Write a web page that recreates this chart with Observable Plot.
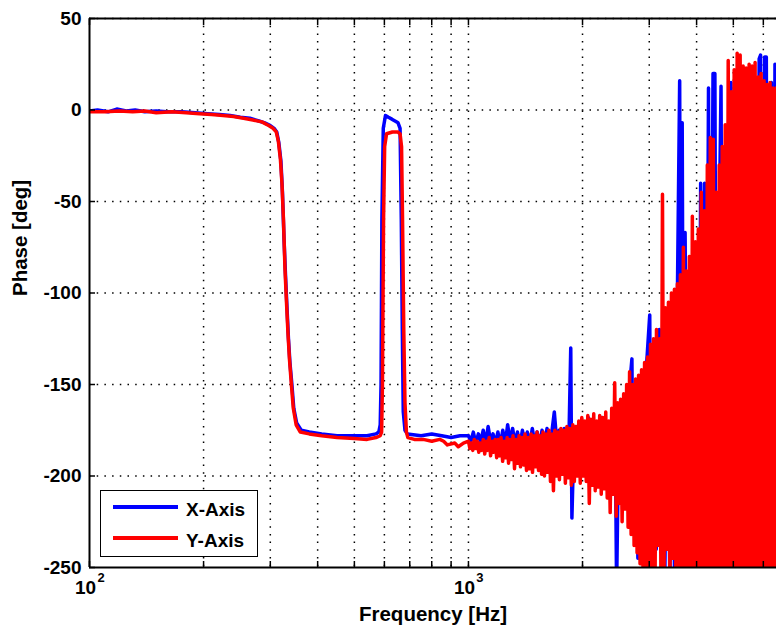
<!DOCTYPE html>
<html>
<head>
<meta charset="utf-8">
<script src="https://cdn.jsdelivr.net/npm/d3@7"></script>
<script src="https://cdn.jsdelivr.net/npm/@observablehq/plot@0.6"></script>
<style>
html, body { margin: 0; padding: 0; background: #fff; }
#wrap { position: relative; width: 776px; height: 635px; overflow: hidden; font-family: "Liberation Sans", Arial, Helvetica, sans-serif; }
#wrap svg { position: absolute; left: 0; top: 0; }
.lgbox { position: absolute; box-sizing: border-box; border: 1.5px solid #000; background: #fff; }
.lgline { position: absolute; height: 3.5px; }
.lgtext { position: absolute; font-size: 19px; font-weight: bold; line-height: 20px; color: #000; white-space: nowrap; }
</style>
</head>
<body>
<div id="wrap"></div>
<script>
// ---- Axis definitions ----
const xDomain = [100, 6500];
const yDomain = [-250, 50];
const gridFreqs = [200, 300, 400, 500, 600, 700, 800, 900, 1000, 2000, 3000, 4000, 5000, 6000];
const tickFreqs = [100, 200, 300, 400, 500, 600, 700, 800, 900, 1000, 2000, 3000, 4000, 5000, 6000];
const decadeTicks = [100, 1000];
const decadeBase = ["10", "10"];
const decadeExponents = ["2", "3"];
const phaseTicks = [50, 0, -50, -100, -150, -200, -250];
const gridPhases = [50, 0, -50, -100, -150, -200];
const xLabel = "Frequency [Hz]";
const yLabel = "Phase [deg]";
const legendLabels = ["X-Axis", "Y-Axis"];
const seriesColors = ["#0000ff", "#ff0000"];

// ---- X-Axis series (blue) ----
const xAxisFreq = [
  100,105,112,118,125,132,140,150,160,175,190,205,220,235,250,265,280,290,300,307,
  312,316,320,323,326,329,332,335,338,342,346,352,362,380,410,450,500,540,570,580,
  585,588,591,596,604,615,628,640,652,660,665,669,673,680,690,750,800,850,900,950,
  1000,1015,1030,1046,1062,1078,1094,1110,1127,1144,1161,1178,1196,1214,1232,1251,1269,1288,1308,1327,1347,1368,1388,1409,
  1430,1452,1474,1496,1518,1541,1564,1588,1612,1636,1660,1685,1711,1736,1762,1789,1816,1843,1862,1875,1899,1927,1956,1985,
  2030,2070,2110,2150,2200,
  2250,2300,2350,2400,2440,2460,2490,2540,2590,2640,2700,2720,2760,2800,2850,2900,2950,3009,3030,3080,
  3130,3190,3200,3250,3300,3350,3400,3450,3500,3560,3609,3640,3665,3700,3730,3790,3850,3920,3960,3990,
  4050,4100,4150,4200,4240,4300,4340,4420,4470,4520,4600,4640,4700,4800,4860,4930,5000,5080,5160,5250,
  5340,5450,5560,5650,5750,5850,5900,5960,6050,6110,6180,6300,6380,6440,6520
];
const xAxisPhase = [
  -0.5,0,-1,0.5,-0.5,0,-1,-0.5,-1,-1,-1.5,-2,-2.5,-3,-4,-4.5,-6,-7,-8.5,-10,
  -12,-18,-28,-45,-70,-90,-108,-125,-138,-150,-163,-171,-175,-176,-177,-178,-178,-178,-177,-176,
  -172,-150,-60,-10,-3,-4,-5,-6,-7,-10,-60,-120,-165,-175,-177,-178,-177,-178,-179,-178,
  -178,-181,-176,-182,-177,-181,-175,-182,-173,-181,-177,-182,-176,-183,-175,-182,-172,-181,-174,-182,-176,-183,-175,-182,
  -176,-183,-174,-182,-176,-183,-175,-182,-174,-183,-176,-165,-182,-175,-183,-174,-182,-176,-130,-223,-178,-173,-182,-172,
  -190,-168,-195,-172,-200,
  -168,-205,-172,-210,-175,-262,-180,-170,-215,-160,-136,-220,-150,-245,-145,-225,-140,-112,-230,-130,
  -240,-120,-234,-125,-250,-115,-262,-105,-262,-100,16,-262,-7,-262,-67,-262,-90,-93,-262,-94,
  -262,-40,-262,-40,-262,12,-262,20,20,-262,-50,13,-262,-10,-262,15,-262,20,-262,15,
  -262,18,-262,20,-262,28,30,-262,29,29,-262,15,-262,25,-262
];

// ---- Y-Axis series (red) ----
const yAxisFreq = [
  100,110,120,130,140,150,165,180,195,210,225,240,255,270,285,297,305,311,315,319,
  322,325,328,331,334,337,341,345,351,360,380,410,450,500,540,570,585,590,593,597,
  601,608,630,650,660,666,670,675,680,686,692,720,760,800,840,860,880,920,940,970,
  1000,1009,1018,1027,1036,1046,1055,1065,1074,1084,1094,1104,1114,1124,1134,1144,1155,1165,1176,1187,
  1197,1208,1219,1231,1242,1253,1265,1276,1288,1300,1311,1323,1335,1348,1360,1372,1385,1398,1410,1423,
  1436,1449,1463,1476,1490,1503,1517,1531,1545,1559,1573,1587,1602,1616,1631,1646,1661,1676,1691,1707,
  1722,1738,1754,1770,1786,1802,1819,1835,1852,1869,1886,1903,1920,1938,1955,1973,1991,2009,2028,2046,
  2065,2084,2103,2122,2141,2161,2180,2200,2220,2241,2261,2282,2303,2324,2345,2366,2388,2410,2432,2454,
  2476,2499,2521,2544,2568,2591,2615,2638,2662,2687,2711,2736,2761,2786,2812,2837,2863,2889,2916,2942,
  2969,2996,3023,3051,3079,3107,3135,3164,3193,3222,3251,3281,3311,3341,3371,3402,3433,3464,3496,3528,
  3560,3592,3625,3658,3691,3725,3759,3793,3828,3863,3898,3934,3970,4006,4042,4079,4116,4154,4192,4230,
  4269,4308,4347,4387,4427,4467,4508,4549,4590,4632,4674,4717,4760,4803,4847,4891,4936,4981,5026,5072,
  5118,5165,5212,5259,5307,5356,5405,5454,5504,5554,5605,5656,5707,5759,5812,5865,5918,5972,6027,6082,
  6137,6193,6250,6307,6364,6422,6481,6540
];
const yAxisPhase = [
  -1,-1,-0.5,-1,-0.5,-1.5,-1,-1.5,-2,-2.5,-3,-3.5,-4.5,-5.5,-6.5,-8.5,-10,-12,-17,-27,
  -40,-60,-87,-105,-122,-136,-150,-163,-172,-176,-177,-178,-179,-179.5,-180,-179,-178,-176,-150,-60,
  -20,-13,-12,-12,-13,-20,-60,-120,-160,-176,-179,-180,-180,-181,-180,-181,-183,-182,-184,-182,
  -181,-185,-182,-186,-180,-185,-181,-187,-182,-186,-180,-188,-181,-186,-179,-189,-181,-187,-180,-190,
  -180,-189,-179,-192,-181,-190,-179,-193,-180,-191,-178,-196,-180,-193,-178,-195,-179,-194,-177,-197,
  -179,-196,-177,-198,-178,-195,-176,-197,-178,-199,-176,-200,-177,-198,-175,-203,-177,-208,-175,-200,
  -176,-202,-174,-199,-175,-204,-173,-201,-174,-205,-172,-203,-173,-200,-170,-204,-168,-200,-170,-203,
  -167,-215,-169,-205,-166,-208,-170,-206,-167,-210,-168,-207,-165,-212,-170,-220,-163,-210,-149,-222,
  -160,-215,-158,-225,-155,-218,-150,-228,-143,-232,-150,-238,-147,-242,-145,-248,-142,-252,-138,-255,
  -135,-262,-128,-250,-125,-262,-120,-238,-125,-262,-46,-262,-108,-240,-105,-262,-100,-245,-98,-262,
  -95,-262,-90,-262,-75,-262,-88,-262,-80,-262,-58,-262,-72,-262,-65,-262,-45,-262,-55,-262,
  -30,-262,-15,-262,-16,-262,-45,-262,-30,-262,-20,-262,-8,-262,27,-262,10,-262,22,-262,
  31,-262,30,-262,24,-262,23,-262,25,-262,24,-262,26,-262,18,-262,20,-262,16,-262,
  14,-262,15,-262,12,-262,12,-262
];

const blueData = xAxisFreq.map((f, i) => ({f, p: xAxisPhase[i]}));
const redData = yAxisFreq.map((f, i) => ({f, p: yAxisPhase[i]}));

const font = '"Liberation Sans", Arial, Helvetica, sans-serif';
const dotted = {stroke: "#000", strokeWidth: 1.5, strokeDasharray: "1.5,6.2"};

const chart = Plot.plot({
  width: 776,
  height: 635,
  marginLeft: 89,
  marginRight: 0,
  marginTop: 18,
  marginBottom: 68,
  style: {fontFamily: font, fontWeight: "bold", background: "#fff", color: "#000"},
  x: {type: "log", domain: xDomain},
  y: {domain: yDomain},
  marks: [
    Plot.ruleX(gridFreqs, dotted),
    Plot.ruleY(gridPhases, dotted),
    Plot.line(blueData, {x: "f", y: "p", stroke: seriesColors[0], strokeWidth: 3.5, clip: true}),
    Plot.line(redData, {x: "f", y: "p", stroke: seriesColors[1], strokeWidth: 3.5, clip: true}),
    Plot.ruleX([xDomain[0]], {stroke: "#000", strokeWidth: 2}),
    Plot.ruleY(yDomain, {stroke: "#000", strokeWidth: 2}),
    Plot.axisX(tickFreqs, {anchor: "bottom", tickSize: -6, tickFormat: () => "", label: null, strokeWidth: 1.5}),
    Plot.axisX(tickFreqs, {anchor: "top", tickSize: -6, tickFormat: () => "", label: null, strokeWidth: 1.5}),
    Plot.axisY(phaseTicks, {anchor: "left", tickSize: -6, tickFormat: () => "", label: null, strokeWidth: 1.5}),
    Plot.axisY(phaseTicks, {anchor: "left", tickSize: 0, tickPadding: 8, fontSize: 19, fontWeight: "bold", label: null, tickFormat: d => String(d)}),
    Plot.text(decadeTicks, {x: d => d, text: (d, i) => decadeBase[i], frameAnchor: "bottom", dy: 26, dx: -4, fontSize: 19, fontWeight: "bold"}),
    Plot.text(decadeTicks, {x: d => d, text: (d, i) => decadeExponents[i], frameAnchor: "bottom", dy: 14, dx: 11.5, fontSize: 13, fontWeight: "bold"}),
    Plot.text([xLabel], {text: d => d, frameAnchor: "bottom", dy: 53, fontSize: 20.5, fontWeight: "bold"}),
    Plot.text([yLabel], {text: d => d, frameAnchor: "left", dx: -69, dy: 3, rotate: -90, fontSize: 20.5, fontWeight: "bold"})
  ]
});

const wrap = document.getElementById("wrap");
wrap.appendChild(chart);

// ---- Legend (overlay inside the axes, lower-left) ----
const box = document.createElement("div");
box.className = "lgbox";
Object.assign(box.style, {left: "100px", top: "490px", width: "158px", height: "67px"});
wrap.appendChild(box);
legendLabels.forEach((label, i) => {
  const cy = 507 + i * 31;
  const ln = document.createElement("div");
  ln.className = "lgline";
  Object.assign(ln.style, {left: "113px", top: (cy - 1.75) + "px", width: "65px", background: seriesColors[i]});
  wrap.appendChild(ln);
  const tx = document.createElement("div");
  tx.className = "lgtext";
  tx.textContent = label;
  Object.assign(tx.style, {left: "186px", top: (cy + 3 - 10) + "px"});
  wrap.appendChild(tx);
});
</script>
</body>
</html>
